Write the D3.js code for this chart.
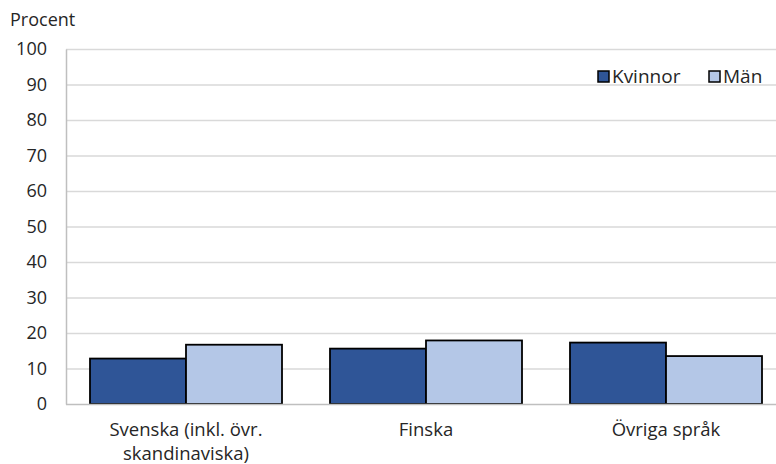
<!DOCTYPE html>
<html>
<head>
<meta charset="utf-8">
<script src="https://cdn.jsdelivr.net/npm/d3@7"></script>
<style>
  html, body { margin: 0; padding: 0; background: #fff; }
  svg { display: block; font-family: "Open Sans", Lato, "Liberation Sans", sans-serif; }
</style>
</head>
<body>
<svg id="chart" width="776" height="464"></svg>
<script>
// Andel per modersmål, kvinnor och män (procent)
const categories = [["Svenska (inkl. övr.", "skandinaviska)"], ["Finska"], ["Övriga språk"]];
const seriesNames = ["Kvinnor", "Män"];
const kvinnor = [12.8, 15.6, 17.3];
const man = [16.7, 17.9, 13.5];
const yTicks = [0, 10, 20, 30, 40, 50, 60, 70, 80, 90, 100];
const colors = ["#2F5597", "#B4C7E7"];

const svg = d3.select("#chart");
const plotLeft = 66, plotRight = 786, plotTop = 49, plotBottom = 404;
const textColor = "#262626";

const x = d3.scaleBand().domain(d3.range(categories.length)).range([plotLeft, plotRight]).paddingInner(0.2).paddingOuter(0.1);
const xs = d3.scaleBand().domain(seriesNames).range([0, x.bandwidth()]);
const y = d3.scaleLinear().domain([0, 100]).range([plotBottom, plotTop]);

// horizontal gridlines
svg.append("g").selectAll("line").data(yTicks.filter(d => d > 0)).join("line")
  .attr("x1", plotLeft).attr("x2", plotRight)
  .attr("y1", d => y(d) + 0.5).attr("y2", d => y(d) + 0.5)
  .attr("stroke", "#d9d9d9").attr("stroke-width", 1.5);

// y axis
const yAxis = svg.append("g").attr("transform", `translate(${plotLeft},0)`)
  .call(d3.axisLeft(y).tickValues(yTicks).tickSize(0).tickPadding(19));
yAxis.select(".domain").attr("stroke", "#bfbfbf").attr("stroke-width", 1.5);
yAxis.selectAll("text").attr("font-size", 18).attr("fill", textColor)
  .attr("font-family", "'Open Sans', sans-serif");

svg.append("text").attr("x", 10).attr("y", 26).attr("font-size", 18).attr("fill", textColor).text("Procent");

// bars
const data = [kvinnor, man];
data.forEach((vals, si) => {
  svg.append("g").selectAll("rect").data(vals).join("rect")
    .attr("x", (d, i) => x(i) + xs(seriesNames[si]))
    .attr("y", d => y(d))
    .attr("width", xs.bandwidth())
    .attr("height", d => y(0) - y(d))
    .attr("fill", colors[si])
    .attr("stroke", "#000").attr("stroke-width", 1.8);
});

// x baseline
svg.append("line").attr("x1", plotLeft).attr("x2", plotRight).attr("y1", plotBottom + 0.5).attr("y2", plotBottom + 0.5)
  .attr("stroke", "#bfbfbf").attr("stroke-width", 1.5);

// category labels, one text element per line
const lines = categories.flatMap((parts, i) => parts.map((t, j) => ({ i, j, t })));
svg.append("g").selectAll("text").data(lines).join("text")
  .attr("x", d => x(d.i) + x.bandwidth() / 2)
  .attr("y", d => 436 + d.j * 24)
  .attr("text-anchor", "middle").attr("font-size", 18.5).attr("fill", textColor)
  .text(d => d.t);

// legend
const legendX = [598, 709];
seriesNames.forEach((name, i) => {
  svg.append("rect").attr("x", legendX[i]).attr("y", 71).attr("width", 11).attr("height", 11)
    .attr("fill", colors[i]).attr("stroke", "#000").attr("stroke-width", 1.5);
  svg.append("text").attr("x", legendX[i] + 14).attr("y", 83).attr("font-size", 19).attr("fill", textColor).text(name);
});
</script>
</body>
</html>
